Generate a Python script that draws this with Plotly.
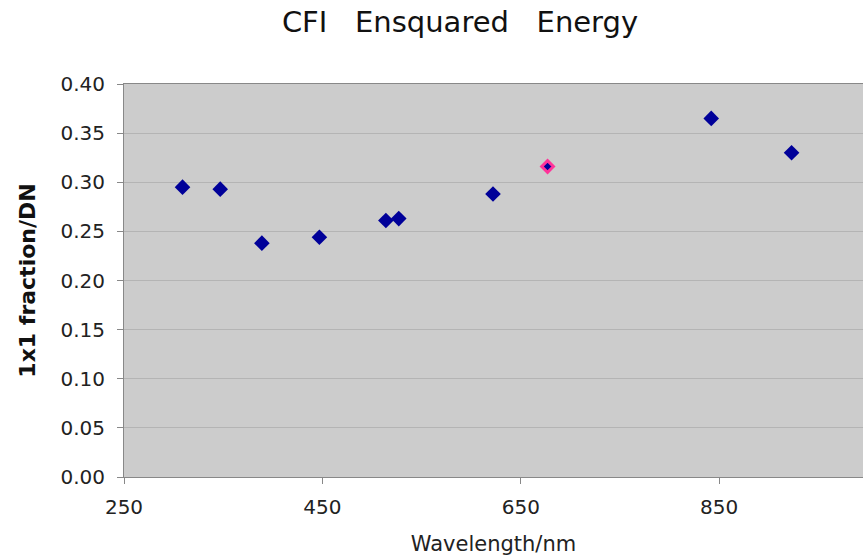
import plotly.graph_objects as go

# Data
wavelengths = [309, 347, 389, 447, 514, 527, 622, 842, 923]
fractions = [0.295, 0.293, 0.238, 0.244, 0.261, 0.263, 0.288, 0.365, 0.330]
highlight_wavelengths = [677]
highlight_fractions = [0.316]

title_text = "CFI   Ensquared   Energy"
x_title = "Wavelength/nm"
y_title = "1x1 fraction/DN"

FONT = "DejaVu Sans"

W, H = 863, 556

fig = go.Figure()
fig.add_trace(go.Scatter(
    x=wavelengths, y=fractions, mode="markers",
    marker=dict(symbol="diamond", size=12, color="#000099",
                line=dict(width=0)),
    showlegend=False,
))
fig.add_trace(go.Scatter(
    x=highlight_wavelengths, y=highlight_fractions, mode="markers",
    marker=dict(symbol="diamond", size=9, color="#000099",
                line=dict(width=3, color="#ff3399")),
    showlegend=False,
))

fig.update_layout(
    width=W, height=H,
    margin=dict(l=124, r=0, t=84, b=79, autoexpand=False),
    paper_bgcolor="white",
    plot_bgcolor="#cccccc",
    font=dict(family=FONT, color="#222222"),
    title=dict(text=title_text, x=460 / W, xanchor="center",
               y=1 - 22 / H, yanchor="middle", yref="container",
               font=dict(family=FONT, size=29, color="#111111")),
    xaxis=dict(
        range=[250, 995], tick0=250, dtick=200,
        showgrid=False, zeroline=False,
        ticks="outside", ticklen=6, tickcolor="#888888",
        ticklabelstandoff=6,
        showline=True, linecolor="#888888", linewidth=1, mirror=True,
        tickfont=dict(size=20, color="#222222"),
        title=dict(text=x_title, font=dict(size=21, color="#222222"), standoff=18),
    ),
    yaxis=dict(
        range=[0, 0.40], dtick=0.05, tickformat=".2f",
        showgrid=True, gridcolor="#b4b4b4", gridwidth=1,
        zeroline=False,
        ticks="outside", ticklen=6, tickcolor="#888888",
        ticklabelstandoff=8,
        showline=True, linecolor="#888888", linewidth=1, mirror=True,
        tickfont=dict(size=20, color="#222222"),
        title=dict(text="<b>" + y_title + "</b>",
                   font=dict(size=22, color="#111111"), standoff=18),
    ),
)

# remove the browser's default body margin so the figure fills the window exactly
fig.write_html(
    "out.html",
    config={"displayModeBar": False},
    post_script="document.body.style.margin='0';document.body.style.overflow='hidden';",
)
